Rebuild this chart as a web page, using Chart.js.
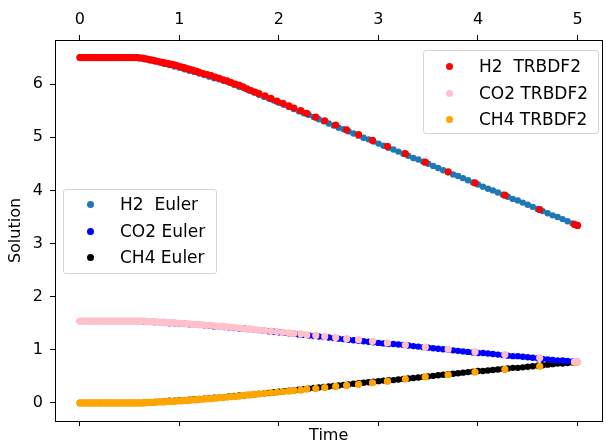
<!DOCTYPE html>
<html lang="en">
<head>
  <meta charset="UTF-8">
  <title>H2 / CO2 / CH4 - Euler vs TRBDF2</title>
  <script src="https://cdn.jsdelivr.net/npm/chart.js"></script>
  <style>
    body {
      margin: 0;
      background: #fff;
      font-family: "DejaVu Sans", sans-serif;
    }
    .wrap {
      position: relative;
      width: 606px;
      height: 445px;
      overflow: hidden;
    }
    .legend {
      position: absolute;
      background: rgba(255,255,255,0.8);
      border: 1px solid #d6d6d6;
      border-radius: 3px;
      font-size: 17px;
      color: #000;
      box-sizing: border-box;
    }
    .legend .row {
      position: absolute;
      white-space: pre;
      line-height: 20px;
    }
    .legend .dot {
      position: absolute;
      width: 7px;
      height: 7px;
      border-radius: 50%;
    }
  </style>
</head>
<body>

<div class="wrap">
  <canvas id="chart" width="606" height="445"></canvas>
  <div class="legend" id="legEuler" style="left:63px; top:189px; width:154px; height:85px;"></div>
  <div class="legend" id="legTr" style="left:423px; top:50px; width:176px; height:84px;"></div>
</div>

<script>
  // tick labels
  const xTicks = [0, 1, 2, 3, 4, 5];
  const yTicks = [0, 1, 2, 3, 4, 5, 6];

  // Euler (fixed step)
  const tEuler = [
    0, 0.05, 0.1, 0.15, 0.2, 0.25, 0.3, 0.35, 0.4, 0.45,
    0.5, 0.55, 0.6, 0.65, 0.7, 0.75, 0.8, 0.85, 0.9, 0.95,
    1.0, 1.05, 1.1, 1.15, 1.2, 1.25, 1.3, 1.35, 1.4, 1.45,
    1.5, 1.55, 1.6, 1.65, 1.7, 1.75, 1.8, 1.85, 1.9, 1.95,
    2.0, 2.05, 2.1, 2.15, 2.2, 2.25, 2.3, 2.35, 2.4, 2.45,
    2.5, 2.55, 2.6, 2.65, 2.7, 2.75, 2.8, 2.85, 2.9, 2.95,
    3.0, 3.05, 3.1, 3.15, 3.2, 3.25, 3.3, 3.35, 3.4, 3.45,
    3.5, 3.55, 3.6, 3.65, 3.7, 3.75, 3.8, 3.85, 3.9, 3.95,
    4.0, 4.05, 4.1, 4.15, 4.2, 4.25, 4.3, 4.35, 4.4, 4.45,
    4.5, 4.55, 4.6, 4.65, 4.7, 4.75, 4.8, 4.85, 4.9, 4.95,
    5.0
  ];
  const h2Euler = [
    6.50, 6.50, 6.50, 6.50, 6.50, 6.50, 6.50, 6.50, 6.50, 6.50,
    6.50, 6.50, 6.49, 6.47, 6.45, 6.43, 6.41, 6.38, 6.36, 6.33,
    6.31, 6.28, 6.25, 6.23, 6.20, 6.17, 6.14, 6.11, 6.09, 6.06,
    6.03, 5.99, 5.95, 5.92, 5.88, 5.84, 5.80, 5.76, 5.73, 5.69,
    5.65, 5.61, 5.57, 5.53, 5.49, 5.45, 5.42, 5.38, 5.34, 5.30,
    5.26, 5.22, 5.18, 5.15, 5.11, 5.07, 5.03, 4.99, 4.96, 4.92,
    4.88, 4.84, 4.80, 4.77, 4.73, 4.69, 4.65, 4.61, 4.58, 4.54,
    4.50, 4.46, 4.42, 4.38, 4.34, 4.30, 4.27, 4.23, 4.19, 4.15,
    4.11, 4.07, 4.03, 4.00, 3.96, 3.92, 3.88, 3.84, 3.81, 3.77,
    3.73, 3.69, 3.65, 3.61, 3.57, 3.53, 3.50, 3.46, 3.42, 3.38,
    3.34
  ];
  const co2Euler = [
    1.54, 1.54, 1.54, 1.54, 1.54, 1.54, 1.54, 1.54, 1.54, 1.54,
    1.54, 1.54, 1.54, 1.53, 1.53, 1.52, 1.52, 1.51, 1.50, 1.50,
    1.49, 1.49, 1.48, 1.47, 1.47, 1.46, 1.45, 1.44, 1.44, 1.43,
    1.42, 1.41, 1.40, 1.40, 1.39, 1.38, 1.37, 1.36, 1.35, 1.34,
    1.33, 1.32, 1.31, 1.30, 1.29, 1.28, 1.27, 1.26, 1.25, 1.24,
    1.23, 1.22, 1.21, 1.20, 1.19, 1.18, 1.17, 1.16, 1.15, 1.14,
    1.13, 1.12, 1.11, 1.11, 1.10, 1.09, 1.08, 1.07, 1.06, 1.05,
    1.04, 1.03, 1.02, 1.01, 1.00, 0.99, 0.98, 0.97, 0.96, 0.95,
    0.94, 0.94, 0.93, 0.92, 0.91, 0.90, 0.89, 0.88, 0.88, 0.87,
    0.86, 0.85, 0.84, 0.83, 0.82, 0.81, 0.80, 0.80, 0.79, 0.78,
    0.77
  ];
  const ch4Euler = [
    0, 0, 0, 0, 0, 0, 0, 0, 0, 0,
    0, 0, 0, 0.01, 0.01, 0.02, 0.02, 0.03, 0.04, 0.04,
    0.05, 0.05, 0.06, 0.07, 0.07, 0.08, 0.09, 0.10, 0.10, 0.11,
    0.12, 0.13, 0.14, 0.14, 0.15, 0.16, 0.17, 0.18, 0.19, 0.20,
    0.21, 0.22, 0.23, 0.24, 0.25, 0.26, 0.27, 0.28, 0.29, 0.30,
    0.31, 0.32, 0.33, 0.34, 0.35, 0.36, 0.37, 0.38, 0.39, 0.40,
    0.41, 0.42, 0.43, 0.43, 0.44, 0.45, 0.46, 0.47, 0.48, 0.49,
    0.50, 0.51, 0.52, 0.53, 0.54, 0.55, 0.56, 0.57, 0.58, 0.59,
    0.60, 0.60, 0.61, 0.62, 0.63, 0.64, 0.65, 0.66, 0.66, 0.67,
    0.68, 0.69, 0.70, 0.71, 0.72, 0.73, 0.74, 0.74, 0.75, 0.76,
    0.77
  ];

  // TRBDF2 (adaptive step: small steps early, growing later)
  const tTr = [
    0, 0.02, 0.04, 0.06, 0.08, 0.1, 0.12, 0.14, 0.16, 0.18,
    0.2, 0.22, 0.24, 0.26, 0.28, 0.3, 0.32, 0.34, 0.36, 0.38,
    0.4, 0.42, 0.44, 0.46, 0.48, 0.5, 0.52, 0.54, 0.56, 0.58,
    0.6, 0.625, 0.65, 0.675, 0.7, 0.725, 0.75, 0.775, 0.8, 0.825,
    0.85, 0.875, 0.9, 0.925, 0.95, 0.975, 1.0, 1.025, 1.05, 1.075,
    1.1, 1.125, 1.15, 1.175, 1.2,
    1.24, 1.28, 1.32, 1.36, 1.4, 1.44, 1.48, 1.52, 1.56, 1.6,
    1.64, 1.68, 1.72, 1.76, 1.8,
    1.86, 1.92, 1.98, 2.04, 2.1,
    2.15, 2.22, 2.28, 2.37, 2.46, 2.57, 2.68, 2.8, 2.94, 3.09,
    3.27, 3.47, 3.7, 3.97, 4.27, 4.62, 4.97, 5.0
  ];
  const h2Tr = [
    6.50, 6.50, 6.50, 6.50, 6.50, 6.50, 6.50, 6.50, 6.50, 6.50,
    6.50, 6.50, 6.50, 6.50, 6.50, 6.50, 6.50, 6.50, 6.50, 6.50,
    6.50, 6.50, 6.50, 6.50, 6.50, 6.50, 6.50, 6.50, 6.50, 6.50,
    6.49, 6.49, 6.48, 6.47, 6.46, 6.45, 6.44, 6.43, 6.42, 6.41,
    6.40, 6.39, 6.38, 6.37, 6.36, 6.35, 6.33, 6.32, 6.31, 6.29,
    6.28, 6.27, 6.25, 6.24, 6.22,
    6.20, 6.18, 6.16, 6.13, 6.11, 6.08, 6.06, 6.03, 6.00, 5.98,
    5.95, 5.91, 5.88, 5.85, 5.82,
    5.78, 5.73, 5.68, 5.64, 5.59,
    5.55, 5.50, 5.45, 5.38, 5.31, 5.23, 5.14, 5.05, 4.94, 4.83,
    4.69, 4.53, 4.35, 4.14, 3.91, 3.64, 3.36, 3.34
  ];
  const co2Tr = [
    1.54, 1.54, 1.54, 1.54, 1.54, 1.54, 1.54, 1.54, 1.54, 1.54,
    1.54, 1.54, 1.54, 1.54, 1.54, 1.54, 1.54, 1.54, 1.54, 1.54,
    1.54, 1.54, 1.54, 1.54, 1.54, 1.54, 1.54, 1.54, 1.54, 1.54,
    1.54, 1.54, 1.54, 1.53, 1.53, 1.53, 1.53, 1.52, 1.52, 1.52,
    1.52, 1.51, 1.51, 1.51, 1.51, 1.50, 1.50, 1.50, 1.49, 1.49,
    1.49, 1.48, 1.48, 1.48, 1.47,
    1.47, 1.46, 1.46, 1.45, 1.44, 1.44, 1.43, 1.42, 1.42, 1.41,
    1.40, 1.39, 1.39, 1.38, 1.37,
    1.36, 1.35, 1.34, 1.33, 1.32,
    1.31, 1.30, 1.28, 1.27, 1.25, 1.23, 1.21, 1.19, 1.16, 1.13,
    1.09, 1.05, 1.01, 0.96, 0.91, 0.85, 0.78, 0.77
  ];
  const ch4Tr = [
    0, 0, 0, 0, 0, 0, 0, 0, 0, 0,
    0, 0, 0, 0, 0, 0, 0, 0, 0, 0,
    0, 0, 0, 0, 0, 0, 0, 0, 0, 0,
    0, 0, 0, 0.01, 0.01, 0.01, 0.01, 0.02, 0.02, 0.02,
    0.02, 0.03, 0.03, 0.03, 0.03, 0.04, 0.04, 0.04, 0.05, 0.05,
    0.05, 0.06, 0.06, 0.06, 0.07,
    0.07, 0.08, 0.08, 0.09, 0.10, 0.10, 0.11, 0.12, 0.12, 0.13,
    0.14, 0.15, 0.15, 0.16, 0.17,
    0.18, 0.19, 0.20, 0.21, 0.22,
    0.23, 0.24, 0.26, 0.27, 0.29, 0.31, 0.33, 0.35, 0.38, 0.41,
    0.45, 0.49, 0.53, 0.58, 0.63, 0.69, 0.76, 0.77
  ];

  const eulerSeries = [
    { label: "H2  Euler",  t: tEuler, y: h2Euler,  color: "#1f77b4" },
    { label: "CO2 Euler",  t: tEuler, y: co2Euler, color: "#0000ff" },
    { label: "CH4 Euler",  t: tEuler, y: ch4Euler, color: "#000000" }
  ];
  const trSeries = [
    { label: "H2  TRBDF2", t: tTr, y: h2Tr,  color: "#ff0000" },
    { label: "CO2 TRBDF2", t: tTr, y: co2Tr, color: "#ffc0cb" },
    { label: "CH4 TRBDF2", t: tTr, y: ch4Tr, color: "#ffa500" }
  ];

  function toDataset(s, radius, order) {
    return {
      label: s.label,
      data: s.t.map((t, i) => ({ x: t, y: s.y[i] })),
      backgroundColor: s.color,
      borderWidth: 0,
      pointRadius: radius,
      pointHoverRadius: radius,
      order: order
    };
  }

  // html legends (two separate boxes like the original)
  function fillLegend(id, series, dotX, textX, rowY) {
    const box = document.getElementById(id);
    series.forEach((s, i) => {
      const dot = document.createElement("div");
      dot.className = "dot";
      dot.style.background = s.color;
      dot.style.left = (dotX - 3.5) + "px";
      dot.style.top = (rowY[i] - 3.5) + "px";
      box.appendChild(dot);
      const txt = document.createElement("div");
      txt.className = "row";
      txt.textContent = s.label;
      txt.style.left = textX + "px";
      txt.style.top = (rowY[i] - 10) + "px";
      box.appendChild(txt);
    });
  }
  fillLegend("legEuler", eulerSeries, 26, 56, [14, 41, 67]);
  fillLegend("legTr", trSeries, 25, 55, [15, 42, 68]);

  const frame = {
    id: "frame",
    afterDatasetsDraw(chart) {
      const a = chart.chartArea;
      const ctx = chart.ctx;
      ctx.save();
      ctx.strokeStyle = "#000";
      ctx.lineWidth = 1;
      ctx.strokeRect(Math.round(a.left) + 0.5, Math.round(a.top) + 0.5,
                     Math.round(a.right - a.left), Math.round(a.bottom - a.top));
      ctx.restore();
    }
  };

  const tickFont = { family: "DejaVu Sans", size: 16 };
  const gridOpts = { drawOnChartArea: false, drawTicks: true, tickLength: 5, color: "#000", lineWidth: 1 };

  new Chart(document.getElementById("chart"), {
    type: "scatter",
    data: {
      datasets: [
        ...eulerSeries.map(s => toDataset(s, 3.2, 1)),
        ...trSeries.map(s => toDataset(s, 3.6, 0))
      ]
    },
    options: {
      responsive: false,
      animation: false,
      layout: { padding: { left: 0, right: 1, top: 0, bottom: 0 } },
      plugins: {
        legend: { display: false },
        tooltip: { enabled: false }
      },
      scales: {
        x: {
          type: "linear",
          position: "bottom",
          min: -0.25,
          max: 5.25,
          afterBuildTicks: s => { s.ticks = xTicks.map(v => ({ value: v })); },
          ticks: { display: false },
          grid: gridOpts,
          border: { display: false },
          title: { display: true, text: "Time", color: "#000", font: { family: "DejaVu Sans", size: 16 }, padding: 0 },
          afterFit: s => { s.height = 24; }
        },
        xTop: {
          type: "linear",
          position: "top",
          min: -0.25,
          max: 5.25,
          afterBuildTicks: s => { s.ticks = xTicks.map(v => ({ value: v })); },
          ticks: { font: tickFont, color: "#000", padding: 6, maxRotation: 0 },
          grid: gridOpts,
          border: { display: false },
          afterFit: s => { s.height = 40; }
        },
        y: {
          type: "linear",
          min: -0.34,
          max: 6.83,
          afterBuildTicks: s => { s.ticks = yTicks.map(v => ({ value: v })); },
          ticks: { font: tickFont, color: "#000", padding: 7 },
          grid: gridOpts,
          border: { display: false },
          title: { display: true, text: "Solution", color: "#000", font: { family: "DejaVu Sans", size: 16 }, padding: { top: 6, bottom: 0 } },
          afterFit: s => { s.width = 55; }
        }
      }
    },
    plugins: [frame]
  });
</script>

</body>
</html>
